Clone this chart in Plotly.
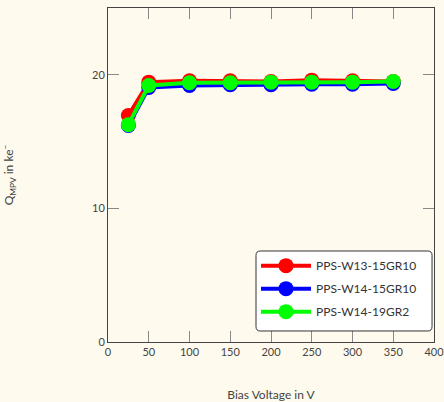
import plotly.graph_objects as go

bias = [25, 50, 100, 150, 200, 250, 300, 350]
w13_15gr10 = [16.95, 19.45, 19.55, 19.55, 19.5, 19.6, 19.55, 19.5]
w14_15gr10 = [16.2, 19.05, 19.2, 19.25, 19.25, 19.3, 19.3, 19.35]
w14_19gr2 = [16.27, 19.2, 19.4, 19.4, 19.45, 19.45, 19.45, 19.5]

names = ["PPS-W13-15GR10", "PPS-W14-15GR10", "PPS-W14-19GR2"]
colors = ["#ff0000", "#0000ff", "#00ff00"]
series = [w13_15gr10, w14_15gr10, w14_19gr2]

fig = go.Figure()
for i, (n, c, s) in enumerate(zip(names, colors, series)):
    fig.add_trace(go.Scatter(x=bias, y=s, name=n, mode="lines+markers",
                             legendgroup=f"g{i}",
                             line=dict(color=c, width=4),
                             marker=dict(color=c, size=15)))

# rounded legend frame (paper coords)
x0, x1, y0, y1 = 0.454, 0.994, 0.033, 0.2725
rx, ry = 0.013, 0.013
path = (f"M{x0+rx},{y1} L{x1-rx},{y1} Q{x1},{y1} {x1},{y1-ry} "
        f"L{x1},{y0+ry} Q{x1},{y0} {x1-rx},{y0} L{x0+rx},{y0} "
        f"Q{x0},{y0} {x0},{y0+ry} L{x0},{y1-ry} Q{x0},{y1} {x0+rx},{y1} Z")

font = "Lato, DejaVu Sans, sans-serif"
fig.update_layout(
    width=444, height=402,
    margin=dict(l=108, r=10, t=8, b=60, autoexpand=False),
    paper_bgcolor="#fefaed", plot_bgcolor="#fefaed",
    font=dict(family=font, size=11, color="#444444"),
    showlegend=True,
    shapes=[dict(type="path", path=path, xref="paper", yref="paper",
                 fillcolor="white", line=dict(color="#333333", width=1), layer="above")],
    legend=dict(x=0.454, y=0.272, xanchor="left", yanchor="top",
                bgcolor="rgba(0,0,0,0)", borderwidth=0,
                font=dict(size=12, color="#333333"), itemwidth=50, tracegroupgap=4),
    xaxis=dict(range=[0, 400.01], tickvals=[0, 50, 100, 150, 200, 250, 300, 350, 400],
               showgrid=False, zeroline=False, showline=True, linecolor="#444444",
               linewidth=1, mirror="ticks", ticks="inside", ticklen=11, tickcolor="#888888",
               automargin=False, ticklabeloverflow="allow",
               title=dict(text="Bias Voltage in V", standoff=40, font=dict(size=12))),
    yaxis=dict(range=[0, 25], tickvals=[0, 10, 20],
               showgrid=False, zeroline=False, showline=True, linecolor="#444444",
               linewidth=1, mirror="ticks", ticks="inside", ticklen=11, tickcolor="#888888",
               automargin=False,
               title=dict(text="Q<sub>MPV</sub> in ke<sup>−</sup>", standoff=75, font=dict(size=12))),
)
fig.write_html("out.html")
